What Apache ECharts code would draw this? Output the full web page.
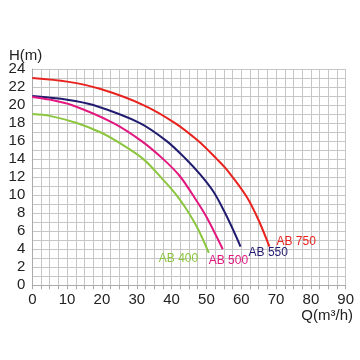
<!DOCTYPE html>
<html>
<head>
<meta charset="utf-8">
<script src="https://cdn.jsdelivr.net/npm/echarts@6/dist/echarts.min.js"></script>
<style>html,body{margin:0;padding:0;background:#fff}#c{width:360px;height:360px}</style>
</head>
<body>
<div id="c"></div>
<script>
const seriesNames = ['AB 750', 'AB 550', 'AB 500', 'AB 400'];
const q750 = [0, 10, 19.4, 31.9, 41, 47.7, 53, 55.9, 61.6, 64.9, 68.1];
const h750 = [23, 22.6, 21.8, 20, 18, 16, 14, 12.8, 9.8, 7.3, 4.3];
const q550 = [0, 10, 17.5, 30.9, 38.6, 43.9, 48.2, 52, 55, 57.5, 59.8];
const h550 = [21, 20.6, 20, 18, 16, 14.1, 12.3, 10.4, 8.3, 6.3, 4.3];
const q500 = [0, 5, 11.3, 23.3, 31.4, 37.6, 42.4, 46.8, 50, 54.7];
const h500 = [20.9, 20.6, 20, 18, 16, 14, 12.1, 9.6, 7.6, 4.0];
const q400 = [0, 5, 12.8, 20, 24.2, 31.9, 37.6, 41, 44, 47.5, 50.7];
const h400 = [19, 18.8, 18, 16.9, 16, 14, 11.7, 10.2, 8.6, 6.3, 3.6];
const xTicks = [0, 10, 20, 30, 40, 50, 60, 70, 80, 90];
const yTicks = [0, 2, 4, 6, 8, 10, 12, 14, 16, 18, 20, 22, 24];

const colors = ['#e8231f', '#211c6f', '#e2187f', '#8cc63f'];
const qs = [q750, q550, q500, q400];
const hs = [h750, h550, h500, h400];
const offsets = [[-1, -5], [0, 6], [-22, 11], [-58, 6]];

const gridColor = '#c6c6c6';
const chart = echarts.init(document.getElementById('c'), null, {renderer: 'canvas'});
chart.setOption({
  animation: false,
  grid: {left: 32.3, right: 14.3, top: 69, bottom: 74.7},
  xAxis: {
    type: 'value', min: xTicks[0], max: xTicks[xTicks.length - 1], interval: 10,
    axisLine: {show: true, lineStyle: {color: '#aaa', width: 1}},
    axisTick: {show: true, length: 4, lineStyle: {color: '#aaa'}},
    minorTick: {show: true, splitNumber: 4, length: 4, lineStyle: {color: '#aaa'}},
    splitLine: {show: true, lineStyle: {color: gridColor, width: 1}},
    minorSplitLine: {show: true, lineStyle: {color: gridColor, width: 1}},
    axisLabel: {color: '#222', fontSize: 15, fontFamily: 'Liberation Sans, Arial', margin: 7}
  },
  yAxis: {
    type: 'value', min: yTicks[0], max: yTicks[yTicks.length - 1], interval: 2,
    axisLine: {show: true, lineStyle: {color: '#aaa', width: 1}},
    axisTick: {show: false},
    minorTick: {show: false, splitNumber: 2},
    splitLine: {show: true, lineStyle: {color: gridColor, width: 1}},
    minorSplitLine: {show: true, lineStyle: {color: gridColor, width: 1}},
    axisLabel: {color: '#222', fontSize: 15, fontFamily: 'Liberation Sans, Arial', margin: 7}
  },
  graphic: [
    {type: 'text', left: 9, top: 48, style: {text: 'H(m)', fontSize: 15, fill: '#222', fontFamily: 'Liberation Sans, Arial'}},
    {type: 'text', right: 7, top: 308, style: {text: 'Q(m³/h)', fontSize: 15, fill: '#222', fontFamily: 'Liberation Sans, Arial'}}
  ],
  series: seriesNames.map((name, i) => ({
    name: name, type: 'line', smooth: 0.3, showSymbol: false, symbol: 'none',
    lineStyle: {color: colors[i], width: 2},
    itemStyle: {color: colors[i]},
    data: qs[i].map((q, j) => [q, hs[i][j]]),
    endLabel: {show: true, formatter: name, color: colors[i], fontSize: 12,
      fontFamily: 'Liberation Sans, Arial', offset: offsets[i]}
  }))
});
</script>
</body>
</html>
